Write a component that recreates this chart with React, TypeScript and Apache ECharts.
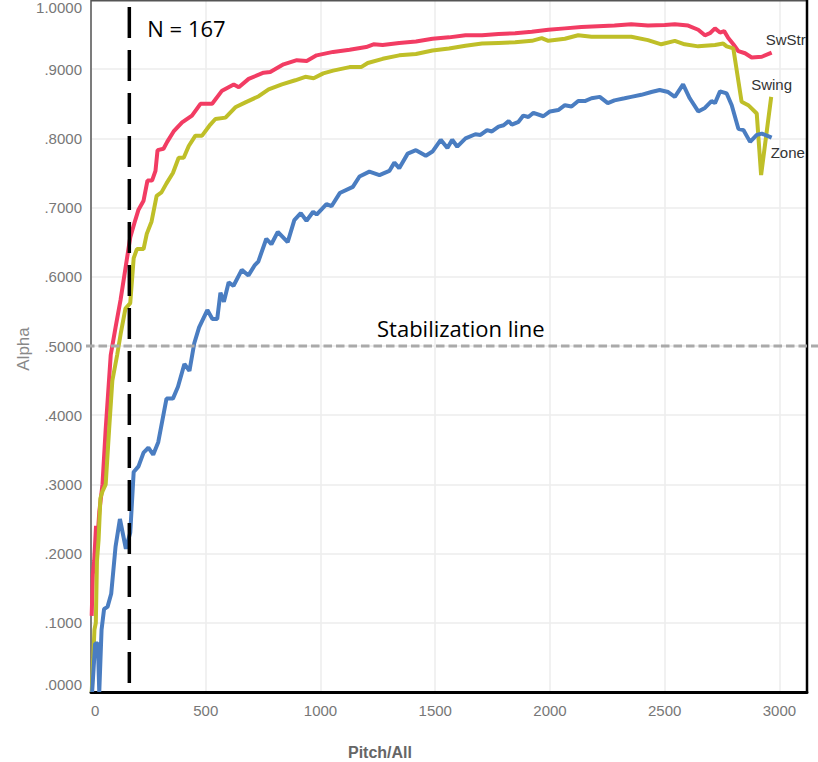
import React, { useEffect, useRef } from "react";
import * as echarts from "echarts";

// ---- Data ----
const swstrX = [3, 8, 14, 22, 28, 36, 50, 64, 86, 107, 129, 150, 171, 193, 207, 229, 246, 266, 281, 290, 316, 332, 360, 397, 440, 477, 528, 571, 622, 644, 687, 752, 781, 839, 897, 940, 983, 1055, 1127, 1199, 1231, 1271, 1343, 1416, 1488, 1560, 1632, 1704, 1776, 1848, 1921, 1993, 2065, 2137, 2209, 2281, 2354, 2427, 2500, 2544, 2602, 2646, 2675, 2697, 2719, 2741, 2759, 2777, 2799, 2821, 2850, 2879, 2923, 2966];
const swstrY = [0.11, 0.17, 0.19, 0.24, 0.22, 0.26, 0.3, 0.38, 0.487, 0.527, 0.567, 0.612, 0.657, 0.682, 0.697, 0.71, 0.739, 0.739, 0.753, 0.783, 0.785, 0.795, 0.81, 0.823, 0.833, 0.85, 0.85, 0.869, 0.878, 0.874, 0.886, 0.895, 0.896, 0.907, 0.913, 0.912, 0.92, 0.925, 0.928, 0.932, 0.936, 0.935, 0.938, 0.94, 0.944, 0.946, 0.949, 0.949, 0.951, 0.952, 0.954, 0.957, 0.959, 0.961, 0.962, 0.963, 0.965, 0.963, 0.964, 0.965, 0.963, 0.957, 0.949, 0.952, 0.959, 0.953, 0.955, 0.945, 0.936, 0.926, 0.923, 0.917, 0.918, 0.924];

const swingX = [3, 10, 15, 21, 26, 33, 41, 50, 64, 79, 93, 114, 129, 150, 171, 186, 200, 229, 243, 264, 286, 307, 329, 357, 382, 404, 426, 455, 484, 520, 542, 586, 629, 673, 731, 774, 832, 890, 934, 970, 1012, 1055, 1127, 1177, 1206, 1271, 1343, 1416, 1488, 1560, 1632, 1704, 1776, 1848, 1921, 1964, 1993, 2065, 2123, 2181, 2281, 2354, 2427, 2485, 2544, 2587, 2646, 2719, 2755, 2770, 2799, 2835, 2864, 2901, 2920, 2964];
const swingY = [0.0, 0.05, 0.09, 0.1, 0.19, 0.22, 0.28, 0.29, 0.3, 0.38, 0.45, 0.487, 0.517, 0.554, 0.562, 0.627, 0.64, 0.64, 0.662, 0.68, 0.717, 0.722, 0.735, 0.75, 0.772, 0.772, 0.789, 0.804, 0.804, 0.82, 0.828, 0.83, 0.845, 0.852, 0.861, 0.871, 0.878, 0.884, 0.889, 0.887, 0.894, 0.898, 0.903, 0.903, 0.909, 0.915, 0.92, 0.922, 0.927, 0.93, 0.934, 0.937, 0.938, 0.939, 0.941, 0.945, 0.941, 0.944, 0.949, 0.947, 0.947, 0.947, 0.942, 0.936, 0.941, 0.936, 0.933, 0.935, 0.937, 0.933, 0.93, 0.853, 0.848, 0.836, 0.747, 0.86];

const zoneX = [5, 18, 30, 36, 46, 57, 72, 88, 107, 126, 152, 171, 186, 207, 229, 250, 271, 293, 329, 357, 379, 407, 429, 450, 471, 507, 529, 550, 564, 579, 600, 621, 657, 686, 714, 729, 764, 786, 814, 857, 886, 914, 939, 968, 983, 1026, 1048, 1084, 1141, 1170, 1213, 1257, 1300, 1322, 1343, 1380, 1416, 1459, 1488, 1524, 1553, 1574, 1596, 1632, 1675, 1697, 1726, 1747, 1776, 1798, 1820, 1834, 1863, 1884, 1906, 1928, 1971, 2000, 2036, 2065, 2094, 2123, 2152, 2181, 2217, 2252, 2281, 2325, 2354, 2398, 2442, 2478, 2515, 2544, 2580, 2609, 2646, 2675, 2704, 2719, 2741, 2770, 2792, 2821, 2843, 2872, 2901, 2923, 2966];
const zoneY = [0.0, 0.07, 0.07, 0.0, 0.09, 0.12, 0.123, 0.142, 0.21, 0.25, 0.207, 0.23, 0.318, 0.326, 0.346, 0.353, 0.343, 0.361, 0.424, 0.424, 0.441, 0.474, 0.464, 0.504, 0.527, 0.552, 0.539, 0.539, 0.577, 0.564, 0.592, 0.587, 0.61, 0.602, 0.617, 0.622, 0.655, 0.647, 0.665, 0.65, 0.682, 0.692, 0.681, 0.694, 0.69, 0.705, 0.702, 0.721, 0.73, 0.745, 0.752, 0.747, 0.753, 0.765, 0.757, 0.778, 0.783, 0.775, 0.781, 0.798, 0.786, 0.798, 0.788, 0.8, 0.806, 0.805, 0.812, 0.81, 0.817, 0.819, 0.825, 0.82, 0.824, 0.833, 0.831, 0.837, 0.832, 0.839, 0.841, 0.848, 0.846, 0.854, 0.854, 0.858, 0.86, 0.851, 0.855, 0.858, 0.86, 0.863, 0.867, 0.87, 0.867, 0.86, 0.878, 0.858, 0.839, 0.844, 0.854, 0.851, 0.868, 0.865, 0.848, 0.814, 0.812, 0.795, 0.805, 0.807, 0.801];

const seriesNames = ["SwStr", "Swing", "Zone"];
const seriesColors = ["#f23c63", "#bfbf28", "#4a7dc1"];
const nValue = 167;
const stabilizationValue = 0.5;
const xMin = 0;
const xMax = 3120;
const xInterval = 500;
const yMin = 0;
const yMax = 1;
const yInterval = 0.1;

const zip = (xs: number[], ys: number[]) => xs.map((x, i) => [x, ys[i]]);

export default function App() {
  const ref = useRef<HTMLDivElement>(null);

  useEffect(() => {
    if (!ref.current) return;
    const chart = echarts.init(ref.current, null, { renderer: "svg" });
    const tickFont = "Liberation Sans, Arial, sans-serif";
    const datasets = [zip(swstrX, swstrY), zip(swingX, swingY), zip(zoneX, zoneY)];

    const option: any = {
      animation: false,
      backgroundColor: "#ffffff",
      grid: { left: 91, right: 11, top: 0, bottom: 70, containLabel: false },
      xAxis: {
        type: "value",
        min: xMin,
        max: xMax,
        interval: xInterval,
        axisLine: { show: true, onZero: false, lineStyle: { color: "#000", width: 3 } },
        axisTick: { show: false },
        splitLine: { show: true, lineStyle: { color: "#ededed", width: 1.5 } },
        axisLabel: {
          color: "#777",
          fontSize: 15,
          fontFamily: tickFont,
          margin: 11,
          showMaxLabel: false,
          alignMinLabel: "left",
          formatter: (v: number) => String(Math.round(v)),
        },
      },
      yAxis: {
        type: "value",
        min: yMin,
        max: yMax,
        interval: yInterval,
        axisLine: { show: true, lineStyle: { color: "#555", width: 1.5 } },
        axisTick: { show: false },
        splitLine: { show: true, lineStyle: { color: "#ededed", width: 1.5 } },
        axisLabel: {
          color: "#777",
          fontSize: 15,
          fontFamily: tickFont,
          margin: 9,
          verticalAlignMinLabel: "bottom",
          verticalAlignMaxLabel: "top",
          formatter: (v: number) => v.toFixed(4).replace(/^0/, ""),
        },
      },
      series: datasets.map((d, i) => ({
        name: seriesNames[i],
        type: "line",
        data: d,
        showSymbol: false,
        symbol: "none",
        smooth: false,
        z: 3 + i,
        lineStyle: { color: seriesColors[i], width: 4 },
        itemStyle: { color: seriesColors[i] },
      })),
    };
    chart.setOption(option);

    // Annotations derived from the axes' scales
    const xN = chart.convertToPixel({ xAxisIndex: 0 }, nValue) as number;
    const yTopN = chart.convertToPixel({ yAxisIndex: 0 }, 0.99) as number;
    const yBottom = chart.convertToPixel({ yAxisIndex: 0 }, 0) as number;
    const yStab = chart.convertToPixel({ yAxisIndex: 0 }, stabilizationValue) as number;
    const xLeft = chart.convertToPixel({ xAxisIndex: 0 }, xMin) as number;
    const xRight = chart.convertToPixel({ xAxisIndex: 0 }, xMax) as number;
    const yTop = chart.convertToPixel({ yAxisIndex: 0 }, yMax) as number;

    const labelOffsets = [
      [-6, -13],
      [-20, -12],
      [-1, 15],
    ];
    const endLabels = datasets.map((d, i) => {
      const last = d[d.length - 1];
      const p = chart.convertToPixel({ seriesIndex: i }, last) as number[];
      return {
        type: "text",
        z: 50,
        x: p[0] + labelOffsets[i][0],
        y: p[1] + labelOffsets[i][1],
        style: {
          text: seriesNames[i],
          fill: "#333",
          font: `15px ${tickFont}`,
          textAlign: "left",
          textVerticalAlign: "middle",
        },
      };
    });

    chart.setOption({
      graphic: [
        // frame
        {
          type: "line",
          z: 60,
          shape: { x1: xLeft, y1: Math.max(yTop, 0) + 0.75, x2: xRight, y2: Math.max(yTop, 0) + 0.75 },
          style: { stroke: "#555", lineWidth: 1.5 },
        },
        {
          type: "line",
          z: 60,
          shape: { x1: xRight, y1: 0, x2: xRight, y2: yBottom },
          style: { stroke: "#000", lineWidth: 2.5 },
        },
        // stabilization line
        {
          type: "line",
          z: 70,
          shape: { x1: xLeft - 5, y1: yStab, x2: 818, y2: yStab },
          style: { stroke: "#aaaaaa", lineWidth: 3, lineDash: [8.5, 4] },
        },
        // N line
        {
          type: "line",
          z: 70,
          shape: { x1: xN, y1: yTopN, x2: xN, y2: yBottom },
          style: { stroke: "#000", lineWidth: 3.5, lineDash: [31, 12] },
        },
        {
          type: "text",
          z: 80,
          x: xN + 18,
          y: 28,
          style: {
            text: "N = " + nValue,
            fill: "#000",
            font: "22px 'Open Sans', 'Noto Sans', sans-serif",
            textAlign: "left",
            textVerticalAlign: "middle",
          },
        },
        {
          type: "text",
          z: 80,
          x: 377,
          y: yStab - 18,
          style: {
            text: "Stabilization line",
            fill: "#000",
            font: "22px 'Open Sans', 'Noto Sans', sans-serif",
            textAlign: "left",
            textVerticalAlign: "middle",
          },
        },
        // axis titles
        {
          type: "text",
          z: 80,
          x: 380,
          y: 752,
          style: {
            text: "Pitch/All",
            fill: "#666",
            font: `bold 16px ${tickFont}`,
            textAlign: "center",
            textVerticalAlign: "middle",
          },
        },
        {
          type: "text",
          z: 80,
          x: 23,
          y: 349,
          rotation: Math.PI / 2,
          style: {
            text: "Alpha",
            fill: "#888",
            font: `17px ${tickFont}`,
            textAlign: "center",
            textVerticalAlign: "middle",
          },
        },
        ...endLabels,
      ],
    });

    return () => chart.dispose();
  }, []);

  return (
    <div
      ref={ref}
      style={{ position: "absolute", left: 0, top: 0, width: 818, height: 762, background: "#fff" }}
    />
  );
}
